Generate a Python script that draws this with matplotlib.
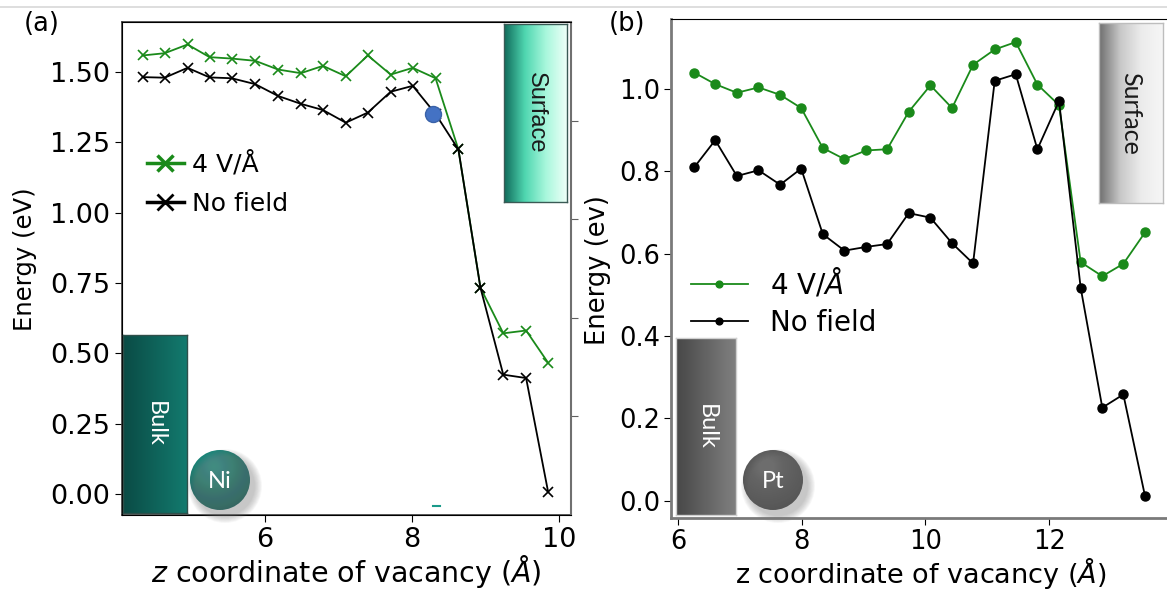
import numpy as np
import matplotlib
matplotlib.use("Agg")
import matplotlib.pyplot as plt
from matplotlib.colors import LinearSegmentedColormap
from matplotlib.lines import Line2D
from matplotlib.patches import Circle

W, H = 1167, 589

# (a) Ni: vacancy z coordinate (Angstrom) and energy (eV)
za = [4.34, 4.64, 4.95, 5.25, 5.55, 5.87, 6.18, 6.49, 6.79, 7.10, 7.40,
      7.71, 8.01, 8.32, 8.63, 8.93, 9.24, 9.55, 9.85]
ea_field = [1.559, 1.567, 1.598, 1.553, 1.548, 1.540, 1.509, 1.496, 1.522,
            1.485, 1.559, 1.491, 1.515, 1.478, 1.225, 0.733, 0.571, 0.581,
            0.466]
ea_nofield = [1.482, 1.480, 1.515, 1.481, 1.478, 1.457, 1.415, 1.387, 1.365,
              1.320, 1.356, 1.430, 1.451, 1.351, 1.225, 0.733, 0.424, 0.412,
              0.006]
blue_pt = (8.28, 1.351)

# (b) Pt
zb = [6.26, 6.60, 6.95, 7.30, 7.65, 7.99, 8.34, 8.69, 9.04, 9.38, 9.73,
      10.08, 10.43, 10.77, 11.12, 11.46, 11.81, 12.16, 12.51, 12.86, 13.20,
      13.55]
eb_field = [1.039, 1.011, 0.990, 1.003, 0.985, 0.953, 0.856, 0.829, 0.850,
            0.853, 0.944, 1.008, 0.953, 1.058, 1.095, 1.113, 1.010, 0.960,
            0.579, 0.545, 0.575, 0.651]
eb_nofield = [0.809, 0.875, 0.788, 0.802, 0.767, 0.806, 0.647, 0.607, 0.616,
              0.623, 0.698, 0.687, 0.625, 0.576, 1.019, 1.035, 0.853, 0.970,
              0.517, 0.226, 0.258, 0.012]

GREEN = "#1a8a1a"


def rect(x0, y0, x1, y1):
    # image pixels (top-left origin) -> figure fraction
    return [x0 / W, 1 - y1 / H, (x1 - x0) / W, (y1 - y0) / H]


def gradient_box(fig, r, colors, label, tcolor, edge, family, size):
    bx = fig.add_axes(r)
    cmap = LinearSegmentedColormap.from_list("g", colors)
    bx.imshow(np.linspace(0, 1, 256)[None, :], cmap=cmap, aspect="auto",
              extent=(0, 1, 0, 1))
    bx.set_xlim(0, 1)
    bx.set_ylim(0, 1)
    bx.set_xticks([])
    bx.set_yticks([])
    for s in bx.spines.values():
        s.set_color(edge)
        s.set_linewidth(1.0)
    bx.text(0.5, 0.5, label, rotation=270, ha="center", va="center",
            color=tcolor, fontsize=size, family=family)


def atom(fig, cx, cy, r, light, dark, label):
    s = r * 1.6
    ax = fig.add_axes(rect(cx - s, cy - s, cx + s, cy + s))
    ax.set_xlim(-s, s)
    ax.set_ylim(-s, s)
    ax.axis("off")
    for k in range(10):
        ax.add_patch(Circle((5, -6), r + 7 - k * 0.8, color="#808080",
                            alpha=0.05, lw=0))
    yy, xx = np.mgrid[-r:r:200j, -r:r:200j]
    d = np.hypot(xx + 0.2 * r, yy - 0.45 * r) / (1.5 * r)
    cmap = LinearSegmentedColormap.from_list("a", [light, dark])
    im = ax.imshow(d, cmap=cmap, extent=(-r, r, -r, r), origin="lower",
                   vmin=0, vmax=1)
    im.set_clip_path(Circle((0, 0), r, transform=ax.transData))
    ax.text(0, -1, label, color="white", ha="center", va="center",
            fontsize=17, family="Lato")


fig = plt.figure(figsize=(W / 100, H / 100), dpi=100)

# ---- panel (a)
ax = fig.add_axes(rect(122, 22, 571, 515))
ax.plot(za, ea_field, color=GREEN, marker="x", ms=7, lw=1.3, mew=1.2)
ax.plot(za, ea_nofield, color="black", marker="x", ms=7, lw=1.3, mew=1.2)
ax.plot(*blue_pt, marker="o", ms=11.5, color="#4472c4", mec="#3a62a8")
ax.plot([8.28, 8.38], [-0.044, -0.044], color="#1a9a8a", lw=1.5)
ax.set_xlim(4.06, 10.16)
ax.set_ylim(-0.075, 1.678)
ax.set_xticks([6, 8, 10])
ax.set_yticks(np.arange(0, 1.51, 0.25))
ax.set_yticklabels(["%.2f" % v for v in np.arange(0, 1.51, 0.25)])
ax.tick_params(labelsize=19.5, length=5)
for s in ax.spines.values():
    s.set_color("#404040")
    s.set_linewidth(1.2)
ax2 = ax.twinx()
ax2.set_ylim(0, 5)
ax2.set_yticks([1, 2, 3, 4])
ax2.set_yticklabels([])
ax2.tick_params(length=5, color="#606060")
ax2.spines["right"].set_color("#707070")
ax2.spines["right"].set_linewidth(1.5)

handles = [Line2D([], [], color=GREEN, marker="x", ms=11, mew=2.5, lw=2.5),
           Line2D([], [], color="black", marker="x", ms=11, mew=2.0, lw=2.5)]
ax.legend(handles, ["4 V/Å", "No field"], loc="upper left",
          bbox_to_anchor=(0.055, 0.738), frameon=False, fontsize=18,
          handlelength=1.5, handletextpad=0.3, labelspacing=0.62,
          borderpad=0, borderaxespad=0)

fig.text(346 / W, 1 - 571 / H, "$z$ coordinate of vacancy ($\\AA$)",
         ha="center", va="center", fontsize=20.5)
fig.text(25 / W, 1 - 259 / H, "Energy (eV)", rotation=90, ha="center",
         va="center", fontsize=17.5)
fig.text(42 / W, 1 - 24 / H, "(a)", ha="center", va="center", fontsize=18.5)

# ---- panel (b)
bxa = fig.add_axes(rect(671, 19, 1166, 517.7))
bxa.plot(zb, eb_field, color=GREEN, marker="o", ms=6.5, lw=1.3)
bxa.plot(zb, eb_nofield, color="black", marker="o", ms=6.5, lw=1.3)
bxa.set_xlim(5.885, 13.89)
bxa.set_ylim(-0.041, 1.169)
bxa.set_xticks([6, 8, 10, 12])
bxa.set_yticks(np.arange(0, 1.01, 0.2))
bxa.set_yticklabels(["%.1f" % v for v in np.arange(0, 1.01, 0.2)])
bxa.tick_params(labelsize=18.5, length=5, pad=3)
for side in ["left", "bottom"]:
    bxa.spines[side].set_color("#7a7a7a")
    bxa.spines[side].set_linewidth(2)
bxa.spines["right"].set_visible(False)

bxa.legend(["4 V/$\\AA$", "No field"], loc="upper left",
           bbox_to_anchor=(0.04, 0.503), frameon=False, fontsize=20,
           handlelength=2.05, handletextpad=0.8, labelspacing=0.33,
           borderpad=0, borderaxespad=0, markerscale=0.75)

fig.text(921 / W, 1 - 573 / H, "z coordinate of vacancy ($\\AA$)",
         ha="center", va="center", fontsize=19.5)
fig.text(598 / W, 1 - 270 / H, "Energy (ev)", rotation=90, ha="center",
         va="center", fontsize=18.5)
fig.text(627 / W, 1 - 24 / H, "(b)", ha="center", va="center", fontsize=18.5)

# decorations: region boxes and atoms
gradient_box(fig, rect(504, 24, 567, 202),
             ["#0f6a5a", "#4fd6b0", "#a8f7dc", "#eefff8"],
             "Surface", "#1a1a1a", "#3a5a55", "Liberation Sans", 17)
gradient_box(fig, rect(123, 335, 187, 513), ["#0a4b45", "#137a6e"],
             "Bulk", "white", "#2f4f4a", "Lato", 17)
gradient_box(fig, rect(1099, 23, 1163, 203),
             ["#6e6e6e", "#c8c8c8", "#ececec", "#f6f6f6"],
             "Surface", "#1a1a1a", "#bdbdbd", "Lato", 18)
gradient_box(fig, rect(676, 338, 736, 515), ["#474747", "#808080"],
             "Bulk", "white", "#d0d0d0", "Lato", 17)
atom(fig, 220, 480, 30, "#1f9a8a", "#0b5c55", "Ni")
atom(fig, 773, 480, 30, "#6a6a6a", "#3e3e3e", "Pt")

fig.add_artist(Line2D([0, 1], [1 - 7 / H, 1 - 7 / H], color="#d8d8d8",
                      lw=1.2, transform=fig.transFigure))

fig.savefig("out.png", dpi=100)
